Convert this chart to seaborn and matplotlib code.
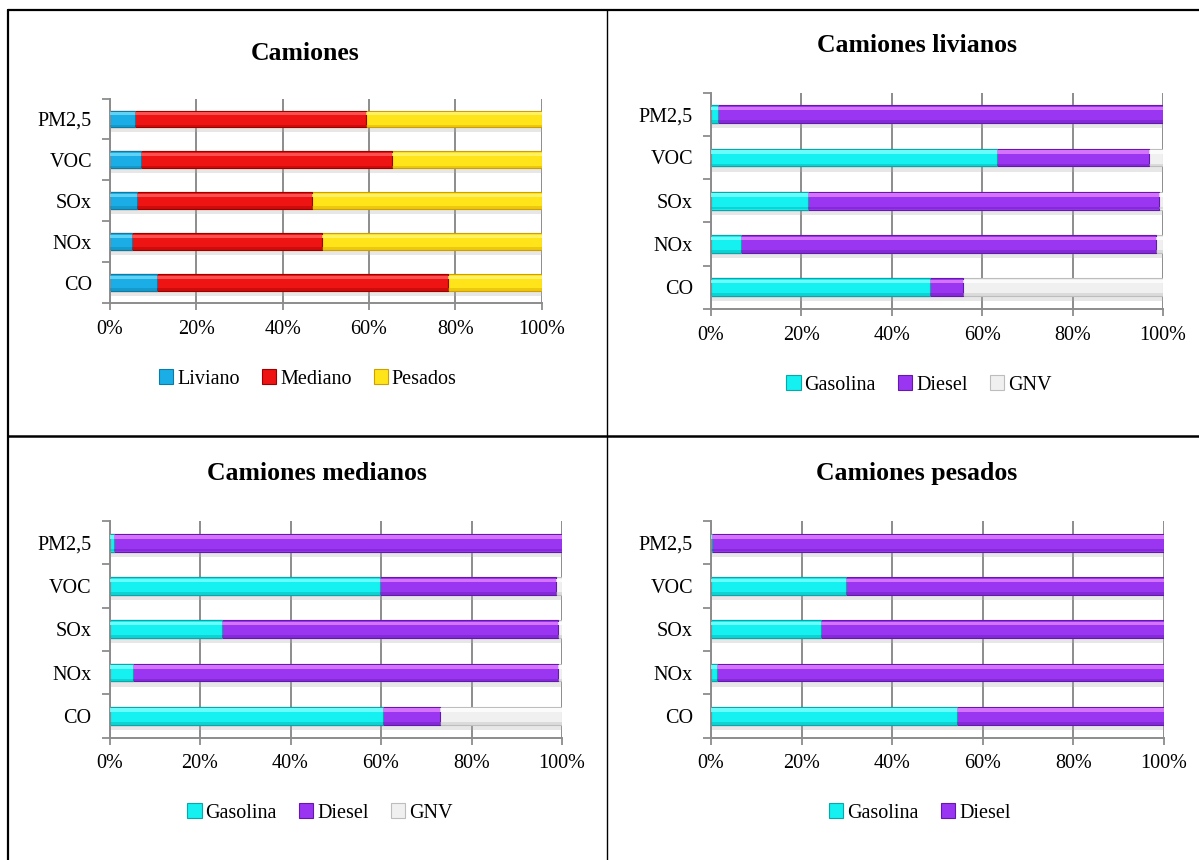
import matplotlib
matplotlib.use('Agg')
import matplotlib.pyplot as plt
from matplotlib.patches import Patch
from matplotlib.lines import Line2D
import numpy as np
import pandas as pd
import seaborn as sns

contaminantes = ['PM2,5', 'VOC', 'SOx', 'NOx', 'CO']

# Camiones (por tamaño)
liviano = [5.9, 7.3, 6.3, 5.0, 11.0]
mediano = [53.5, 58.1, 40.5, 44.1, 67.4]
pesados = [40.6, 34.6, 53.2, 50.9, 21.6]

# Camiones livianos (por combustible)
liv_gasolina = [1.6, 63.3, 21.5, 6.7, 48.4]
liv_diesel = [98.3, 33.6, 77.6, 91.7, 7.4]
liv_gnv = [0.1, 3.1, 0.9, 1.6, 44.2]

# Camiones medianos
med_gasolina = [1.0, 59.8, 24.9, 5.2, 60.4]
med_diesel = [98.9, 38.8, 74.2, 93.9, 12.6]
med_gnv = [0.1, 1.4, 0.9, 0.9, 27.0]

# Camiones pesados
pes_gasolina = [0.3, 29.8, 24.2, 1.4, 54.3]
pes_diesel = [99.7, 70.2, 75.8, 98.6, 45.7]

# (base, claro, oscuro)
colores = {
    'Liviano': ('#1BAEE6', '#74DCF8', '#0C7CA6'),
    'Mediano': ('#EE1414', '#FF6060', '#9E0000'),
    'Pesados': ('#FFE41A', '#FFF57A', '#D09E00'),
    'Gasolina': ('#15F0F0', '#80FFFF', '#08A8A8'),
    'Diesel': ('#9A36F2', '#E583FF', '#6418AE'),
    'GNV': ('#F0F0F0', '#FFFFFF', '#BDBDBD'),
}

sns.set_theme(style='white')
plt.rcParams['font.family'] = ['Liberation Serif', 'DejaVu Serif']
plt.rcParams['text.color'] = 'black'

GRIS = '#8c8c8c'
BW = 0.41


def dibujar(ax, series, nombres):
    df = pd.DataFrame(dict(zip(nombres, series)), index=contaminantes)
    acum = df.cumsum(axis=1)
    total = acum.iloc[:, -1]
    pos = np.arange(len(contaminantes))
    # sombra
    ax.barh(pos + BW / 2 + 0.06, total, height=0.12, color='#b0b0b0', alpha=0.3,
            zorder=1, linewidth=0)
    for nombre in reversed(nombres):
        base, claro, oscuro = colores[nombre]
        sns.barplot(x=acum[nombre].values, y=contaminantes, orient='h', color=base,
                    width=BW, edgecolor=oscuro, linewidth=0.8, saturation=1, ax=ax,
                    zorder=2)
    for nombre in nombres:
        base, claro, oscuro = colores[nombre]
        inicio = acum[nombre] - df[nombre]
        ancho = df[nombre].values
        ax.barh(pos - 0.13, ancho, left=inicio.values, height=0.08, color=claro,
                alpha=0.8, linewidth=0, zorder=3)
        ax.barh(pos + 0.17, ancho, left=inicio.values, height=0.06, color=oscuro,
                alpha=0.4, linewidth=0, zorder=3)
    ax.set_xlim(0, 100)
    ax.set_ylim(len(contaminantes) - 0.5, -0.5)
    ax.set_xticks(np.arange(0, 101, 20))
    ax.set_xticklabels([f'{v}%' for v in range(0, 101, 20)])
    ax.set_yticks(pos)
    ax.set_yticks(np.arange(-0.5, len(contaminantes), 1), minor=True)
    ax.set_xlabel('')
    ax.set_ylabel('')
    ax.xaxis.grid(True, color=GRIS, linewidth=1.4)
    ax.yaxis.grid(False)
    ax.set_axisbelow(True)
    for s in ['top', 'right']:
        ax.spines[s].set_visible(False)
    for s in ['left', 'bottom']:
        ax.spines[s].set_color(GRIS)
        ax.spines[s].set_linewidth(1.4)
    ax.tick_params(axis='y', which='major', length=0, pad=13, labelsize=14.5,
                   labelcolor='black')
    ax.tick_params(axis='y', which='minor', length=6, width=1.3, color=GRIS, left=True)
    ax.tick_params(axis='x', which='major', length=5, width=1.3, color=GRIS, bottom=True,
                   pad=7, labelsize=14.5, labelcolor='black')
    ax.set_facecolor('white')


fig = plt.figure(figsize=(11.99, 8.6), dpi=100)
W, H = 1199, 860


def ejes(x0, x1, ytop, ybot):
    return fig.add_axes([x0 / W, 1 - ybot / H, (x1 - x0) / W, (ybot - ytop) / H])


ax1 = ejes(110, 541.5, 98.5, 303)
ax2 = ejes(711, 1163, 92.5, 309)
ax3 = ejes(109.5, 562, 521, 737.5)
ax4 = ejes(711, 1164, 521, 737.5)

dibujar(ax1, [liviano, mediano, pesados], ['Liviano', 'Mediano', 'Pesados'])
dibujar(ax2, [liv_gasolina, liv_diesel, liv_gnv], ['Gasolina', 'Diesel', 'GNV'])
dibujar(ax3, [med_gasolina, med_diesel, med_gnv], ['Gasolina', 'Diesel', 'GNV'])
dibujar(ax4, [pes_gasolina, pes_diesel], ['Gasolina', 'Diesel'])

titulos = [('Camiones', 305, 53), ('Camiones livianos', 917, 46),
           ('Camiones medianos', 317, 474), ('Camiones pesados', 917, 474)]
for t, x, y in titulos:
    fig.text(x / W, 1 - y / H, t, ha='center', va='center', fontsize=18.5,
             fontweight='bold', color='black')

leyendas = [(['Liviano', 'Mediano', 'Pesados'], 308, 379),
            (['Gasolina', 'Diesel', 'GNV'], 919, 385),
            (['Gasolina', 'Diesel', 'GNV'], 320, 813),
            (['Gasolina', 'Diesel'], 920, 813)]
for nombres, x, y in leyendas:
    handles = [Patch(facecolor=colores[n][0], edgecolor=colores[n][2], linewidth=0.8)
               for n in nombres]
    leg = fig.legend(handles, nombres, loc='center', bbox_to_anchor=(x / W, 1 - y / H),
                     ncol=len(nombres), frameon=False, fontsize=14.5, handlelength=0.7,
                     handleheight=0.7, handletextpad=0.2, columnspacing=1.1)
    for txt in leg.get_texts():
        txt.set_color('black')

# bordes de la tabla
fig.add_artist(Line2D([8 / W, 1], [1 - 10 / H, 1 - 10 / H], color='black', lw=1.6))
fig.add_artist(Line2D([8 / W, 8 / W], [0, 1 - 10 / H], color='black', lw=1.6))
fig.add_artist(Line2D([607 / W, 607 / W], [0, 1 - 10 / H], color='black', lw=1.0))
fig.add_artist(Line2D([8 / W, 1], [1 - 436 / H, 1 - 436 / H], color='black', lw=1.8))

fig.savefig('out.png', dpi=100, facecolor='white')
